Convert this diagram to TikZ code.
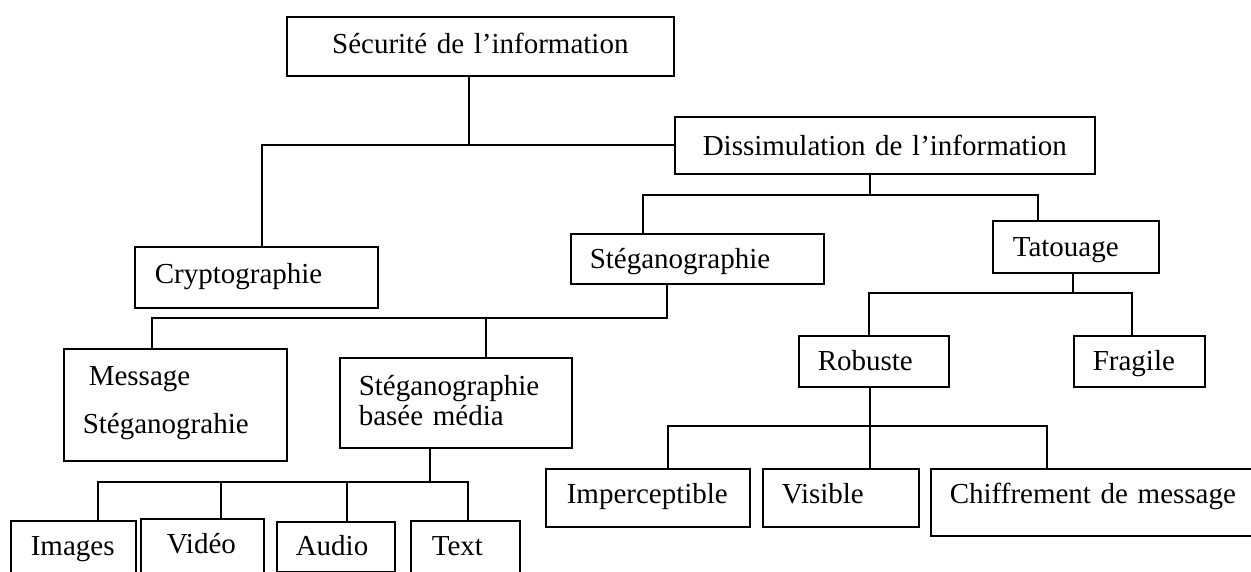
\documentclass[tikz,border=0pt]{standalone}
\usepackage{fontspec}
\setmainfont{Liberation Serif}
\newcommand\diagfont{\fontsize{29pt}{30pt}\selectfont}
\begin{document}
\begin{tikzpicture}[x=1pt,y=-1pt,
  bx/.style={draw, line width=1.6pt, rectangle, inner xsep=0pt, inner ysep=0pt,
             anchor=north west, align=left, font=\diagfont, text height=20pt},
  link/.style={line width=1.6pt}]
\useasboundingbox (0,0) rectangle (1251,572);
\fill[white] (0,0) rectangle (1251,572);
\clip (0,0) rectangle (1251,572);

% boxes
\node[bx, align=center, text width=387pt, minimum height=59pt, text depth=6pt] (secu) at (286,16) {Sécurité de l’information};
\node[bx, align=center, text width=420pt, minimum height=57pt, text depth=0pt] (dissim) at (674,116) {Dissimulation de l’information};
\node[bx, text width=243pt, minimum height=61pt, text depth=8pt] (crypto) at (134,246) {\hspace*{20pt}Cryptographie};
\node[bx, text width=253pt, minimum height=50pt, text depth=1pt] (steg) at (570,233) {\hspace*{19pt}Stéganographie};
\node[bx, text width=166pt, minimum height=52pt, text depth=1pt] (tatou) at (992,220) {\hspace*{20pt}Tatouage};
\node[bx, text width=223pt, minimum height=112pt, text depth=59pt] (message) at (63,348) {\hspace*{25pt}Message\\[18pt]\hspace*{19pt}Stéganograhie};
\node[bx, text width=232pt, minimum height=90pt, text depth=35pt] (basee) at (339,357) {\hspace*{19pt}Stéganographie\\\hspace*{19pt}basée média};
\node[bx, text width=150pt, minimum height=51pt, text depth=2pt] (robuste) at (798,335) {\hspace*{19pt}Robuste};
\node[bx, text width=131pt, minimum height=51pt, text depth=2pt] (fragile) at (1073,335) {\hspace*{19pt}Fragile};
\node[bx, text width=204pt, minimum height=58pt, text depth=9pt] (imperc) at (545,468) {\hspace*{21pt}Imperceptible};
\node[bx, text width=156pt, minimum height=58pt, text depth=9pt] (visible) at (762,468) {\hspace*{19pt}Visible};
\node[bx, text width=332pt, minimum height=67pt, text depth=18pt] (chiff) at (930,468) {\hspace*{19pt}Chiffrement de message};
\node[bx, text width=125pt, minimum height=70pt, text depth=21pt] (images) at (10,520) {\hspace*{20pt}Images};
\node[bx, text width=123pt, minimum height=72pt, text depth=23pt] (video) at (140,518) {\hspace*{26pt}Vidéo};
\node[bx, text width=118pt, minimum height=50pt, text depth=3pt] (audio) at (276,521) {\hspace*{19pt}Audio};
\node[bx, text width=109pt, minimum height=70pt, text depth=21pt] (text) at (410,520) {\hspace*{21pt}Text};

% branch points
\coordinate (j1) at (469,0);
\coordinate (c1) at (262,0);
\coordinate (d0) at (870,195);
\coordinate (d1) at (643,195);
\coordinate (d2) at (1038,195);
\coordinate (s0) at (667,318);
\coordinate (s1) at (152,318);
\coordinate (s2) at (486,318);
\coordinate (m0) at (430,482);
\coordinate (m1) at (98,482);
\coordinate (m2) at (221,482);
\coordinate (m3) at (347,482);
\coordinate (m4) at (468,482);
\coordinate (t0) at (1073,293);
\coordinate (t1) at (869,293);
\coordinate (t2) at (1132,293);
\coordinate (r0) at (870,426);
\coordinate (r1) at (668,426);
\coordinate (r2) at (1047,426);

% connectors
\draw[link] (secu.south -| j1) -- (j1 |- dissim.west);
\draw[link] (c1 |- crypto.north) |- (dissim.west);

\draw[link] (d0 |- dissim.south) -- (d0);
\draw[link] (d1 |- steg.north) -- (d1) -- (d2) -- (d2 |- tatou.north);

\draw[link] (s0 |- steg.south) -- (s0) -- (s1) -- (s1 |- message.north);
\draw[link] (s2) -- (s2 |- basee.north);

\draw[link] (m0 |- basee.south) -- (m0);
\draw[link] (m1 |- images.north) -- (m1) -- (m4) -- (m4 |- text.north);
\draw[link] (m2) -- (m2 |- video.north);
\draw[link] (m3) -- (m3 |- audio.north);

\draw[link] (t0 |- tatou.south) -- (t0);
\draw[link] (t1 |- robuste.north) -- (t1) -- (t2) -- (t2 |- fragile.north);

\draw[link] (r0 |- robuste.south) -- (r0 |- visible.north);
\draw[link] (r1 |- imperc.north) -- (r1) -- (r2) -- (r2 |- chiff.north);
\end{tikzpicture}
\end{document}
